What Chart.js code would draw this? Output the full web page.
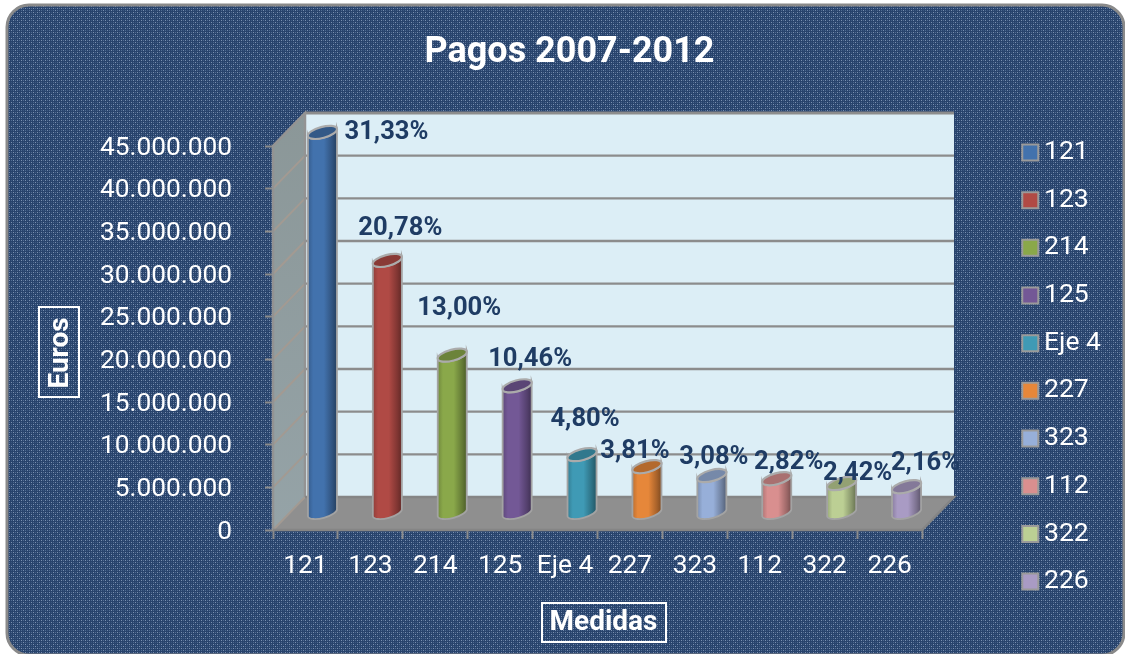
<!DOCTYPE html>
<html><head><meta charset="utf-8">
<style>html,body{margin:0;padding:0;background:#fff}canvas{display:block}</style>
<script src="https://cdn.jsdelivr.net/npm/chart.js@4"></script>
</head><body><canvas id="c" width="1125" height="654"></canvas>
<script>
const categories = ['121','123','214','125','Eje 4','227','323','112','322','226'];
const payments = [44600000,29600000,18500000,14900000,6840000,5430000,4390000,4020000,3450000,3080000];
const shareLabels = ['31,33%','20,78%','13,00%','10,46%','4,80%','3,81%','3,08%','2,82%','2,42%','2,16%'];
const barColors = ['#4272ad','#b04a45','#8aa84a','#735896','#3f9ab5','#e6873a','#97afd9','#d98f8f','#bccf94','#a99bc4'];
const yTickLabels = ['0','5.000.000','10.000.000','15.000.000','20.000.000','25.000.000','30.000.000','35.000.000','40.000.000','45.000.000'];

const DEPTH_X = 32, DEPTH_Y = -33, BAR_SHIFT_X = 17, BAR_SHIFT_Y = -17;
const labelOffsets = [[64,0],[13,-32],[7,-47],[13,-26],[3,-35],[-12,-15],[2,-18],[12,-16],[16,-10],[19,-23]];
const FONT = 'Roboto, "Liberation Sans", sans-serif';
const GREY = '#8c8c8c';

function shade(hex, f){
  const n = parseInt(hex.slice(1),16);
  const c = [n>>16&255,n>>8&255,n&255].map(v=>Math.round(f<=1? v*f : v+(255-v)*(f-1)));
  return `rgb(${c[0]},${c[1]},${c[2]})`;
}
function texture(ctx){
  const t = document.createElement('canvas'); t.width = 8; t.height = 8;
  const g = t.getContext('2d');
  g.fillStyle = '#28436c'; g.fillRect(0,0,8,8);
  const rows = ['.x.o.x.o','........','.o.s.o.x','........','.x.s.x.o','........','.o.x.o.s','........'];
  rows.forEach((r,y)=>[...r].forEach((ch,x)=>{
    if(ch==='.')return;
    g.fillStyle = ch==='x' ? '#7a90b0' : ch==='o' ? '#4f6b92' : '#3a5780';
    g.fillRect(x,y,1,1);
  }));
  return ctx.createPattern(t,'repeat');
}
const scene = {
  id:'scene',
  beforeLayout(chart){
    const lg = chart.legend;
    if(lg && !lg._patched){
      const f = lg.fit;
      lg.fit = function(){ f.call(this); this.width = 203; };
      lg._patched = true;
    }
  },
  afterLayout(chart){
    const lg = chart.legend;
    lg.left = 1008.6; lg.right = 1125; lg.top = 118.1; lg.bottom = 654;
    const t = chart.titleBlock;
    t.left += 7; t.right += 7;
    const boxed = (scale, dx, dy, box) => {
      if(scale._patched) return;
      const f = scale.drawTitle;
      scale.drawTitle = function(){
        const c = this.ctx;
        c.save();
        c.strokeStyle = '#fff'; c.lineWidth = 2;
        c.strokeRect(box[0],box[1],box[2],box[3]);
        c.translate(dx,dy);
        f.call(this);
        c.restore();
      };
      scale._patched = true;
    };
    boxed(chart.scales.y, 0, 15, [39,307,40,90]);
    boxed(chart.scales.x, 6, 0, [542,603,124,39]);
  },
  beforeDraw(chart){
    const c = chart.ctx;
    c.save();
    c.fillStyle = '#fff'; c.fillRect(0,0,1125,654);
    c.beginPath(); c.roundRect(7,5,1117,650,22);
    c.fillStyle = texture(c); c.fill();
    c.strokeStyle = '#8a8a8a'; c.lineWidth = 3; c.stroke();
    c.restore();
  },
  beforeDatasetsDraw(chart){
    const c = chart.ctx, a = chart.chartArea, y = chart.scales.y;
    const L=a.left,R=a.right,T=a.top,B=a.bottom;
    c.save();
    // back wall
    c.fillStyle='#dceef6'; c.fillRect(L+DEPTH_X,T+DEPTH_Y,R-L,B-T);
    // side wall
    const side = c.createLinearGradient(0,T+DEPTH_Y,0,B);
    side.addColorStop(0,'#8b9798'); side.addColorStop(1,'#95a3a7');
    c.fillStyle=side;
    c.beginPath();c.moveTo(L,T);c.lineTo(L+DEPTH_X,T+DEPTH_Y);c.lineTo(L+DEPTH_X,B+DEPTH_Y);c.lineTo(L,B);c.closePath();c.fill();
    // floor
    c.fillStyle='#8f8f8f';
    c.beginPath();c.moveTo(L,B);c.lineTo(L+DEPTH_X,B+DEPTH_Y);c.lineTo(R+DEPTH_X,B+DEPTH_Y);c.lineTo(R,B);c.closePath();c.fill();
    // gridlines on the walls
    y.ticks.forEach(t=>{
      const p = y.getPixelForValue(t.value);
      c.strokeStyle='#a39a92'; c.lineWidth=2;
      c.beginPath();c.moveTo(L,p);c.lineTo(L+DEPTH_X,p+DEPTH_Y);c.stroke();
      if(t.value===0) return;
      c.strokeStyle=GREY; c.lineWidth=t.value===y.max?3:2.4;
      c.beginPath();c.moveTo(L+DEPTH_X,p+DEPTH_Y);c.lineTo(R+DEPTH_X,p+DEPTH_Y);c.stroke();
    });
    c.strokeStyle='#939393'; c.lineWidth=2.5;
    c.beginPath();c.moveTo(L,B);c.lineTo(L,T);c.lineTo(L+DEPTH_X,T+DEPTH_Y);c.lineTo(L+DEPTH_X,B+DEPTH_Y);c.stroke();
    c.strokeStyle='#858585';
    c.beginPath();c.moveTo(L,B);c.lineTo(R,B);c.lineTo(R+DEPTH_X,B+DEPTH_Y);c.lineTo(L+DEPTH_X,B+DEPTH_Y);c.stroke();
    c.restore();
  },
  beforeDatasetDraw(chart,args){
    const c = chart.ctx, TILT = -15*Math.PI/180;
    args.meta.data.forEach((bar,i)=>{
      const w = bar.width, cx = bar.x+BAR_SHIFT_X, top = bar.y+BAR_SHIFT_Y, base = bar.base+BAR_SHIFT_Y;
      const rx = w/2/Math.cos(TILT), ry = 5.5, col = barColors[i];
      const sag = -Math.sin(TILT)*rx;
      const g = c.createLinearGradient(cx-w/2,0,cx+w/2,0);
      g.addColorStop(0,shade(col,.82)); g.addColorStop(.18,col); g.addColorStop(.55,col); g.addColorStop(.85,shade(col,.72)); g.addColorStop(1,shade(col,.55));
      c.save();
      c.beginPath();
      c.moveTo(cx-w/2,top+sag);
      c.lineTo(cx-w/2,base+sag);
      c.ellipse(cx,base,rx,ry,TILT,Math.PI,0,true);
      c.lineTo(cx+w/2,top-sag);
      c.ellipse(cx,top,rx,ry,TILT,0,Math.PI,false);
      c.closePath();
      c.fillStyle=g; c.fill();
      c.strokeStyle='#a3a3a3'; c.lineWidth=1.8; c.stroke();
      c.beginPath(); c.ellipse(cx,top,rx,ry,TILT,0,Math.PI*2);
      c.fillStyle=shade(col,.78); c.fill();
      c.strokeStyle='#ababab'; c.lineWidth=2.2; c.stroke();
      c.restore();
    });
    return false;
  },
  afterDatasetsDraw(chart){
    const c = chart.ctx, els = chart.getDatasetMeta(0).data;
    c.save();
    c.font = `bold 25.6px ${FONT}`; c.fillStyle='#1f3c64'; c.textAlign='center'; c.textBaseline='middle';
    els.forEach((bar,i)=>{
      c.fillText(shareLabels[i], bar.x+BAR_SHIFT_X+labelOffsets[i][0], bar.y+BAR_SHIFT_Y+labelOffsets[i][1]);
    });
    c.restore();
  }
};
new Chart(document.getElementById('c'),{
  type:'bar',
  data:{labels:categories,datasets:[{label:'Pagos',data:payments,backgroundColor:barColors,barPercentage:.447,categoryPercentage:1}]},
  plugins:[scene],
  options:{
    responsive:false,animation:false,
    layout:{padding:0},
    plugins:{
      title:{display:true,text:'Pagos 2007-2012',color:'#fff',font:{family:FONT,size:36,weight:'bold'},padding:{top:31,bottom:71.8}},
      tooltip:{enabled:false},
      legend:{
        display:true,position:'right',align:'start',
        labels:{
          color:'#fff',font:{family:FONT,size:26.5},padding:21.17,boxWidth:1,boxHeight:16,usePointStyle:true,
          generateLabels:()=>categories.map((name,i)=>({text:name,fillStyle:barColors[i],strokeStyle:'#9a9a9a',lineWidth:2,pointStyle:'rect',fontColor:'#fff',hidden:false,index:i}))
        }
      }
    },
    scales:{
      x:{
        afterFit:s=>{s.height=124;},
        border:{display:false},
        grid:{drawOnChartArea:false,drawTicks:true,tickColor:GREY,tickWidth:2,tickLength:9},
        ticks:{color:'#fff',font:{family:FONT,size:26.3},padding:12,autoSkip:false,maxRotation:0,minRotation:0},
        title:{display:true,text:'Medidas',color:'#fff',font:{family:FONT,size:28,weight:'bold'},padding:{top:0,bottom:14.7}}
      },
      y:{
        min:0,max:45000000,
        afterFit:s=>{s.width=273;},
        border:{display:false},
        grid:{drawOnChartArea:false,drawTicks:true,tickColor:GREY,tickWidth:2,tickLength:8},
        ticks:{color:'#fff',stepSize:5000000,font:{family:FONT,size:26.3},padding:33,labelOffset:2,callback:(v,i)=>yTickLabels[i]},
        title:{display:true,text:'Euros',color:'#fff',font:{family:FONT,size:28,weight:'bold'},padding:{top:44.2,bottom:0}}
      }
    }
  }
});
</script></body></html>
